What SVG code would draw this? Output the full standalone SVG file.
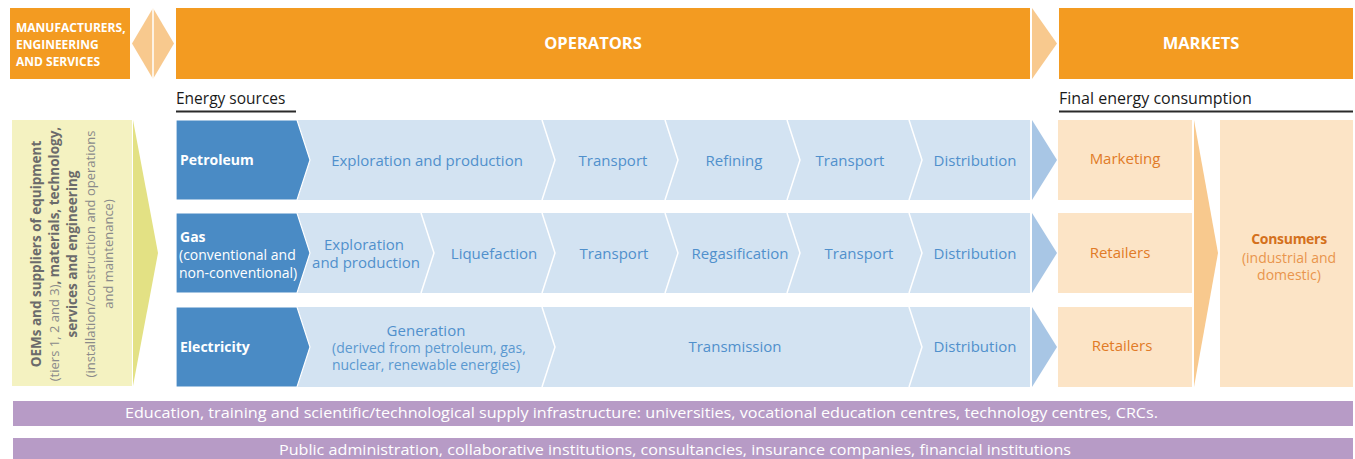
<svg xmlns="http://www.w3.org/2000/svg" width="1355" height="459" viewBox="0 0 1355 459">
<style>
text{font-family:"Open Sans","Noto Sans","Liberation Sans",sans-serif}
.hdr{fill:#f39b21}
.lor{fill:#f8c98e}
.hw{fill:#fff;font-weight:bold}
.dk{fill:#4a8bc5;stroke:#fff;stroke-width:1.2}
.lb{fill:#d3e3f2}
.sep{fill:none;stroke:#fff;stroke-width:1.5}
.arr{fill:#a8c6e5}
.bt{fill:#5090cc;font-size:15px;text-anchor:middle}
.bs{fill:#5a98d0;font-size:14px;text-anchor:middle}
.rl{fill:#fff;font-size:14px}
.pe{fill:#fce4c6}
.ot{fill:#e17b27;font-size:15px;text-anchor:middle}
.pu{fill:#b79bc6}
.pt{fill:#fff;font-size:14px;text-anchor:middle}
.vt{font-size:13px;fill:#8a8a8a;text-anchor:middle}
.vb{font-weight:bold;fill:#6b6b6b;font-size:13.5px}
.ul{stroke:#2a2a2a;stroke-width:2}
.lab{fill:#1a1a1a}
</style>

<g id="hdr-manufacturers">
<rect class="hdr" x="10" y="8" width="120" height="71"/>
<text class="hw" font-size="12" x="16" y="32">MANUFACTURERS,</text>
<text class="hw" font-size="12" x="16" y="49">ENGINEERING</text>
<text class="hw" font-size="12" x="16" y="66">AND SERVICES</text>
</g>
<g id="hdr-operators">
<rect class="hdr" x="176" y="8" width="854" height="71"/>
<text class="hw" font-size="16.5" x="593" y="49" text-anchor="middle">OPERATORS</text>
</g>
<g id="hdr-markets">
<rect class="hdr" x="1059" y="8" width="294" height="71"/>
<text class="hw" font-size="16.5" x="1201" y="48.5" text-anchor="middle">MARKETS</text>
</g>

<g id="label-energy-sources">
<text class="lab" font-size="15.5" x="176" y="104">Energy sources</text>
<line class="ul" x1="176" y1="111.5" x2="296" y2="111.5"/>
</g>
<g id="label-final-consumption">
<text class="lab" font-size="16" x="1059" y="104">Final energy consumption</text>
<line class="ul" x1="1059" y1="111.5" x2="1353" y2="111.5"/>
</g>

<g id="suppliers">
<rect x="12" y="120" width="120" height="266" fill="#f4f2c1"/>
<text class="vt" transform="translate(41,254) rotate(-90)"><tspan class="vb">OEMs and suppliers of equipment</tspan></text>
<text class="vt" transform="translate(59,254) rotate(-90)">(tiers 1, 2 and 3)<tspan class="vb">, materials, technology,</tspan></text>
<text class="vt" transform="translate(77,254) rotate(-90)"><tspan class="vb">services and engineering</tspan></text>
<text class="vt" transform="translate(95,254) rotate(-90)">(installation/construction and operations</text>
<text class="vt" transform="translate(113,254) rotate(-90)">and maintenance)</text>
</g>

<g id="row-petroleum">
<rect class="lb" x="297" y="120" width="733" height="80"/>
<polyline class="sep" points="542,120 555,160 542,200"/>
<polyline class="sep" points="665,120 678,160 665,200"/>
<polyline class="sep" points="787,120 800,160 787,200"/>
<polyline class="sep" points="909,120 922,160 909,200"/>
<polygon class="dk" points="176,120 297,120 310,160 297,200 176,200"/>
<text class="rl hw" x="180" y="165">Petroleum</text>
<text class="bt" x="427" y="165.5">Exploration and production</text>
<text class="bt" x="613" y="165.5">Transport</text>
<text class="bt" x="734" y="165.5">Refining</text>
<text class="bt" x="850" y="165.5">Transport</text>
<text class="bt" x="975" y="165.5">Distribution</text>
</g>

<g id="row-gas">
<rect class="lb" x="297" y="213" width="733" height="80"/>
<polyline class="sep" points="421,213 434,253 421,293"/>
<polyline class="sep" points="542,213 555,253 542,293"/>
<polyline class="sep" points="665,213 678,253 665,293"/>
<polyline class="sep" points="787,213 800,253 787,293"/>
<polyline class="sep" points="909,213 922,253 909,293"/>
<polygon class="dk" points="176,213 297,213 310,253 297,293 176,293"/>
<text class="rl hw" x="180" y="242">Gas</text>
<text class="rl" x="179" y="260">(conventional and</text>
<text class="rl" x="179" y="278">non-conventional)</text>
<text class="bt" x="364" y="250">Exploration</text>
<text class="bt" x="366" y="268">and production</text>
<text class="bt" x="494" y="258.5">Liquefaction</text>
<text class="bt" x="614" y="258.5">Transport</text>
<text class="bt" x="740" y="258.5">Regasification</text>
<text class="bt" x="859" y="258.5">Transport</text>
<text class="bt" x="975" y="258.5">Distribution</text>
</g>

<g id="row-electricity">
<rect class="lb" x="297" y="307" width="733" height="80"/>
<polyline class="sep" points="542,307 555,347 542,387"/>
<polyline class="sep" points="909,307 922,347 909,387"/>
<polygon class="dk" points="176,307 297,307 310,347 297,387 176,387"/>
<text class="rl hw" x="180" y="352">Electricity</text>
<text class="bt" x="426" y="335.5">Generation</text>
<text class="bs" x="429" y="352.5">(derived from petroleum, gas,</text>
<text class="bs" x="426" y="370">nuclear, renewable energies)</text>
<text class="bt" x="735" y="352">Transmission</text>
<text class="bt" x="975" y="352">Distribution</text>
</g>

<g id="market-marketing">
<rect class="pe" x="1058" y="120" width="134" height="80"/>
<text class="ot" x="1125" y="164">Marketing</text>
</g>
<g id="market-retailers-gas">
<rect class="pe" x="1058" y="213" width="134" height="80"/>
<text class="ot" x="1120" y="258">Retailers</text>
</g>
<g id="market-retailers-elec">
<rect class="pe" x="1058" y="307" width="134" height="80"/>
<text class="ot" x="1122" y="351">Retailers</text>
</g>
<g id="consumers">
<rect class="pe" x="1220" y="120" width="133" height="267"/>
<text x="1289" y="244" font-size="14" font-weight="bold" fill="#d4701c" text-anchor="middle" letter-spacing="-0.3">Consumers</text>
<text x="1289" y="263" font-size="14" fill="#e9954d" text-anchor="middle">(industrial and</text>
<text x="1289" y="280" font-size="14" fill="#e9954d" text-anchor="middle">domestic)</text>
</g>

<g id="education">
<rect class="pu" x="13" y="401" width="1340" height="25"/>
<text class="pt" x="641.5" y="418" textLength="1033" lengthAdjust="spacingAndGlyphs">Education, training and scientific/technological supply infrastructure: universities, vocational education centres, technology centres, CRCs.</text>
</g>
<g id="public">
<rect class="pu" x="13" y="438" width="1340" height="21"/>
<text class="pt" x="675" y="455" textLength="792" lengthAdjust="spacingAndGlyphs">Public administration, collaborative institutions, consultancies, insurance companies, financial institutions</text>
</g>

<g id="connectors">
<polygon class="lor" points="132,43.5 153,8 174,43.5 153,79"/>
<line x1="153" y1="8" x2="153" y2="79" stroke="#fff" stroke-width="1.5"/>
<polygon class="lor" points="1032,8 1057,43.5 1032,79"/>
<polygon points="133,120 158,253 133,386" fill="#e3e184"/>
<polygon class="arr" points="1032,120 1057,160 1032,200"/>
<polygon class="arr" points="1032,213 1057,253 1032,293"/>
<polygon class="arr" points="1032,307 1057,347 1032,387"/>
<polygon class="lor" points="1194,120 1218,253 1194,387"/>
</g>
</svg>
